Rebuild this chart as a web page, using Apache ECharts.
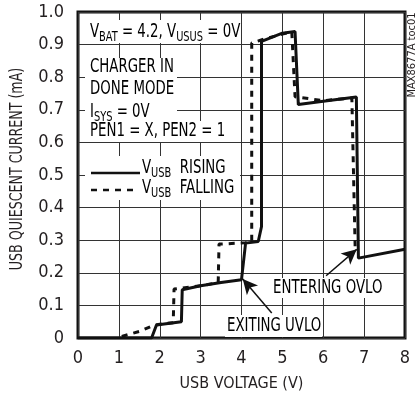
<!DOCTYPE html>
<html>
<head>
<meta charset="utf-8">
<script src="https://cdn.jsdelivr.net/npm/echarts@6/dist/echarts.min.js"></script>
<style>
  html, body { margin: 0; padding: 0; background: #fff; }
  #chart { width: 417px; height: 401px; }
</style>
</head>
<body>
<div id="chart"></div>
<script>
// rising sweep (solid)
const riseVolts = [0, 1.8, 1.92, 2.53, 2.55, 3.0, 3.5, 4.0, 4.1, 4.41, 4.49, 4.49, 5.0, 5.31, 5.39, 6.0, 6.81, 6.86, 8.0];
const riseCurrent = [0, 0, 0.04, 0.05, 0.148, 0.16, 0.17, 0.179, 0.291, 0.296, 0.342, 0.91, 0.935, 0.94, 0.716, 0.726, 0.739, 0.245, 0.272];

// falling sweep (dashed)
const fallVolts = [1.07, 1.5, 1.84, 2.0, 2.33, 2.35, 3.0, 3.43, 3.45, 4.1, 4.25, 4.25, 4.5, 5.0, 5.23, 5.31, 6.0, 6.7, 6.78];
const fallCurrent = [0.005, 0.02, 0.038, 0.042, 0.047, 0.15, 0.16, 0.17, 0.288, 0.292, 0.296, 0.905, 0.915, 0.932, 0.94, 0.74, 0.728, 0.736, 0.28];

const xTicks = ['0', '1', '2', '3', '4', '5', '6', '7', '8'];
const yTicks = ['0', '0.1', '0.2', '0.3', '0.4', '0.5', '0.6', '0.7', '0.8', '0.9', '1.0'];

// annotation arrows [from, to] in data units
const uvloArrow = [[4.74, 0.077], [4.03, 0.181]];
const ovloArrow = [[6.07, 0.191], [6.82, 0.272]];

const FONT = "'Liberation Sans Narrow', 'DejaVu Sans Condensed', sans-serif";
const INK = '#231f20';
const SQUEEZE = 0.78; // the original face is a tall condensed one

function zip(xs, ys) {
    return xs.map((x, i) => [x, ys[i]]);
}

// rich text: normal + subscript
const rich = {
    n: { fontSize: 19, fontFamily: FONT, color: INK, lineHeight: 24, verticalAlign: 'middle' },
    s: { fontSize: 14, fontFamily: FONT, color: INK, lineHeight: 24, verticalAlign: 'bottom' }
};

function label(x, y, text) {
    return {
        type: 'text', x: x, y: y, z: 101, scaleX: SQUEEZE, silent: true,
        style: { text: text, rich: rich, verticalAlign: 'middle', align: 'left' }
    };
}
function whiteBox(x, y, w, h) {
    return {
        type: 'rect', z: 100, silent: true,
        shape: { x: x, y: y, width: w, height: h },
        style: { fill: '#fff' }
    };
}

const chart = echarts.init(document.getElementById('chart'));

chart.setOption({
    animation: false,
    backgroundColor: '#fff',
    grid: {
        left: 78, right: 12, top: 12, bottom: 63,
        show: true, borderColor: '#111', borderWidth: 3
    },
    xAxis: {
        type: 'value', min: 0, max: 8, interval: 1,
        name: 'USB VOLTAGE (V)', nameLocation: 'middle', nameGap: 38,
        nameTextStyle: { fontSize: 16, fontFamily: FONT, color: INK },
        axisLine: { show: false },
        axisTick: { show: false },
        axisLabel: {
            margin: 11, fontSize: 18, fontFamily: FONT, color: INK,
            formatter: v => xTicks[Math.round(v)]
        },
        splitLine: { show: true, lineStyle: { color: '#333', width: 1 } }
    },
    yAxis: {
        type: 'value', min: 0, max: 1, interval: 0.1,
        axisLine: { show: false },
        axisTick: { show: false },
        axisLabel: {
            margin: 14, fontSize: 18, fontFamily: FONT, color: INK,
            formatter: v => yTicks[Math.round(v * 10)]
        },
        splitLine: { show: true, lineStyle: { color: '#333', width: 1 } }
    },
    series: [
        {
            name: 'VUSB FALLING', type: 'line', z: 3,
            data: zip(fallVolts, fallCurrent),
            showSymbol: false, symbol: 'none',
            lineStyle: { color: '#111', width: 3, type: [6, 6] }
        },
        {
            name: 'VUSB RISING', type: 'line', z: 4,
            data: zip(riseVolts, riseCurrent),
            showSymbol: false, symbol: 'none',
            lineStyle: { color: '#111', width: 3, type: 'solid' },
            markLine: {
                silent: true, animation: false,
                symbol: ['none', 'arrow'], symbolSize: [11, 15],
                label: { show: false },
                lineStyle: { color: '#111', width: 1.5, type: 'solid' },
                data: [
                    [{ coord: uvloArrow[0] }, { coord: uvloArrow[1] }],
                    [{ coord: ovloArrow[0] }, { coord: ovloArrow[1] }]
                ]
            }
        }
    ],
    graphic: [
        // white patches behind the text blocks
        whiteBox(80, 20, 160, 23),
        whiteBox(85, 58, 92, 42),
        whiteBox(85, 100, 92, 21),
        whiteBox(85, 121, 133, 21),
        whiteBox(85, 156, 155, 44),
        whiteBox(270, 278, 115, 20),
        whiteBox(225, 315, 97, 22),

        label(90, 32, '{n|V}{s|BAT}{n| = 4.2, V}{s|USUS}{n| = 0V}'),
        label(90, 67, '{n|CHARGER IN}'),
        label(90, 89, '{n|DONE MODE}'),
        label(90, 112, '{n|I}{s|SYS}{n| = 0V}'),
        label(90, 131, '{n|PEN1 = X, PEN2 = 1}'),
        label(142, 168, '{n|V}{s|USB}{n|  RISING}'),
        label(142, 188, '{n|V}{s|USB}{n|  FALLING}'),
        label(273, 288, '{n|ENTERING OVLO}'),
        label(227, 326, '{n|EXITING UVLO}'),

        // legend samples
        {
            type: 'line', z: 101, silent: true,
            shape: { x1: 91, y1: 173, x2: 140, y2: 173 },
            style: { stroke: '#111', lineWidth: 2.5 }
        },
        {
            type: 'line', z: 101, silent: true,
            shape: { x1: 91, y1: 190, x2: 138, y2: 190 },
            style: { stroke: '#111', lineWidth: 2.5, lineDash: [6, 6] }
        },

        // y axis title, condensed like the original
        {
            type: 'text', x: 17, y: 169, rotation: Math.PI / 2, scaleX: SQUEEZE, z: 101, silent: true,
            style: {
                text: 'USB QUIESCENT CURRENT (mA)', fontSize: 18, fontFamily: FONT, fill: INK,
                align: 'center', verticalAlign: 'middle'
            }
        },

        // figure id at the right edge
        {
            type: 'text', x: 412, y: 55, rotation: Math.PI / 2, z: 101, silent: true,
            style: {
                text: 'MAX8677A toc01', fontSize: 11, fontFamily: FONT, fill: INK,
                align: 'center', verticalAlign: 'middle'
            }
        }
    ]
});
</script>
</body>
</html>
